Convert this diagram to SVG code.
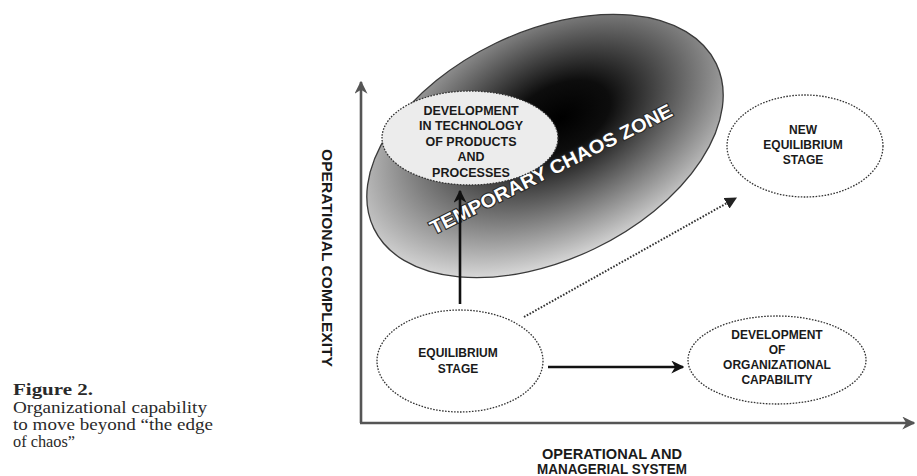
<svg xmlns="http://www.w3.org/2000/svg" width="917" height="476" viewBox="0 0 917 476">
  <style>
    .lbl { font-family: "Liberation Sans", Arial, sans-serif; font-weight: bold; fill: #1a1a1a; text-anchor: middle; }
    .node { fill: #ffffff; stroke: #333333; stroke-width: 1.3; stroke-dasharray: 1.6 1.4; }
    .cap { font-family: "Liberation Serif", "Times New Roman", serif; fill: #2a2a2a; font-size: 16px; }
    .axis { stroke: #555555; stroke-width: 2.6; fill: none; }
    .solid { stroke: #111111; stroke-width: 2.6; fill: none; }
    .dotted { stroke: #333333; stroke-width: 2; stroke-dasharray: 1.6 1.6; fill: none; }
    .zone { fill: #ffffff; stroke: #2a2a2a; stroke-width: 2.2; paint-order: stroke; }
  </style>
  <defs>
    <radialGradient id="chaosFill" cx="0.56" cy="0.4" r="0.64" fx="0.57" fy="0.42">
      <stop offset="0" stop-color="#000000"/>
      <stop offset="0.22" stop-color="#0d0d0d"/>
      <stop offset="0.58" stop-color="#707070"/>
      <stop offset="1" stop-color="#e2e2e2"/>
    </radialGradient>
    <marker id="headSolid" viewBox="0 0 10 10" refX="9" refY="5" markerWidth="5" markerHeight="5" orient="auto" markerUnits="strokeWidth">
      <path d="M0,0 L10,5 L0,10 L3,5 Z" fill="#111111"/>
    </marker>
    <marker id="headAxis" viewBox="0 0 10 10" refX="9" refY="5" markerWidth="5" markerHeight="5" orient="auto" markerUnits="strokeWidth">
      <path d="M0,0 L10,5 L0,10 L3,5 Z" fill="#555555"/>
    </marker>
    <marker id="headDot" viewBox="0 0 10 10" refX="9" refY="5" markerWidth="6" markerHeight="6" orient="auto" markerUnits="strokeWidth">
      <path d="M0,0 L10,5 L0,10 Z" fill="#222222"/>
    </marker>
  </defs>

  <rect width="917" height="476" fill="#ffffff"/>

  <!-- caption -->
  <g id="caption">
    <text class="cap" x="13" y="395" font-weight="bold" textLength="80" lengthAdjust="spacingAndGlyphs">Figure 2.</text>
    <text class="cap" x="13" y="413" textLength="194" lengthAdjust="spacingAndGlyphs">Organizational capability</text>
    <text class="cap" x="13" y="430" textLength="200" lengthAdjust="spacingAndGlyphs">to move beyond “the edge</text>
    <text class="cap" x="13" y="447" textLength="62" lengthAdjust="spacingAndGlyphs">of chaos”</text>
  </g>

  <!-- temporary chaos zone -->
  <g id="chaos-zone">
    <g transform="translate(545,146) rotate(-25.7)">
      <ellipse cx="0" cy="0" rx="190" ry="114" fill="url(#chaosFill)" stroke="#3a3a3a" stroke-width="1.3"/>
    </g>
    <text class="lbl zone" x="554" y="175" font-size="19" transform="rotate(-26.5 554 175)" textLength="268" lengthAdjust="spacingAndGlyphs">TEMPORARY CHAOS ZONE</text>
  </g>

  <!-- axes -->
  <g id="axes">
    <line class="axis" x1="361" y1="423" x2="361" y2="82" marker-end="url(#headAxis)"/>
    <line class="axis" x1="360" y1="423" x2="914" y2="423" marker-end="url(#headAxis)"/>
    <text class="lbl" x="0" y="0" font-size="14" transform="translate(322,258) rotate(90)" textLength="218" lengthAdjust="spacingAndGlyphs">OPERATIONAL COMPLEXITY</text>
    <text class="lbl" x="612" y="459" font-size="14" textLength="140" lengthAdjust="spacingAndGlyphs">OPERATIONAL AND</text>
    <text class="lbl" x="612" y="474" font-size="14" textLength="150" lengthAdjust="spacingAndGlyphs">MANAGERIAL SYSTEM</text>
  </g>

  <!-- nodes -->
  <g id="tech-development">
    <ellipse class="node" cx="470" cy="138" rx="88" ry="47" style="fill:#ececec"/>
    <text class="lbl" font-size="12.5" x="471" y="115">DEVELOPMENT</text>
    <text class="lbl" font-size="12.5" x="471" y="130">IN TECHNOLOGY</text>
    <text class="lbl" font-size="12.5" x="471" y="146">OF PRODUCTS</text>
    <text class="lbl" font-size="12.5" x="471" y="161">AND</text>
    <text class="lbl" font-size="12.5" x="471" y="177">PROCESSES</text>
  </g>

  <g id="new-equilibrium">
    <ellipse class="node" cx="805" cy="146" rx="78" ry="51"/>
    <text class="lbl" font-size="12" x="803" y="134">NEW</text>
    <text class="lbl" font-size="12" x="803" y="149">EQUILIBRIUM</text>
    <text class="lbl" font-size="12" x="803" y="164">STAGE</text>
  </g>

  <g id="equilibrium">
    <ellipse class="node" cx="460" cy="361" rx="83" ry="51"/>
    <text class="lbl" font-size="12" x="458" y="357">EQUILIBRIUM</text>
    <text class="lbl" font-size="12" x="458" y="373">STAGE</text>
  </g>

  <g id="org-capability">
    <ellipse class="node" cx="777" cy="360" rx="89" ry="44"/>
    <text class="lbl" font-size="12" x="777" y="339">DEVELOPMENT</text>
    <text class="lbl" font-size="12" x="777" y="354">OF</text>
    <text class="lbl" font-size="12" x="777" y="369">ORGANIZATIONAL</text>
    <text class="lbl" font-size="12" x="777" y="384">CAPABILITY</text>
  </g>

  <!-- connectors -->
  <g id="connectors">
    <line class="solid" x1="460" y1="304" x2="460" y2="191" marker-end="url(#headSolid)"/>
    <line class="solid" x1="548" y1="367" x2="683" y2="367" marker-end="url(#headSolid)"/>
    <line class="dotted" x1="524" y1="317" x2="736" y2="198" marker-end="url(#headDot)"/>
  </g>
</svg>
